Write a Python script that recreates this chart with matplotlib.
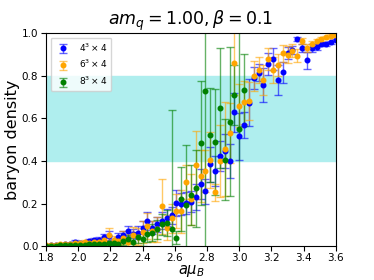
import numpy as np
import matplotlib
matplotlib.use("Agg")
import matplotlib.pyplot as plt

# chemical potential grid (step 0.03)
mu_4 = np.round(np.linspace(1.80, 3.60, 61), 2)
mu_6 = mu_4
mu_8 = np.round(np.linspace(1.80, 3.03, 42), 2)

dens_4 = [0.004, 0.005, 0.006, 0.007, 0.009, 0.011, 0.022, 0.016, 0.018, 0.026,
          0.030, 0.031, 0.042, 0.050, 0.020, 0.042, 0.052, 0.072, 0.060, 0.065,
          0.088, 0.119, 0.088, 0.103, 0.120, 0.134, 0.145, 0.204, 0.199, 0.204,
          0.210, 0.231, 0.292, 0.258, 0.384, 0.353, 0.424, 0.446, 0.401, 0.628,
          0.517, 0.569, 0.674, 0.790, 0.813, 0.755, 0.855, 0.878, 0.778, 0.816,
          0.906, 0.921, 0.972, 0.929, 0.872, 0.930, 0.934, 0.948, 0.949, 0.957,
          0.968]
err_4 = [0.003, 0.003, 0.004, 0.004, 0.005, 0.005, 0.010, 0.006, 0.008, 0.010,
         0.010, 0.012, 0.015, 0.020, 0.015, 0.020, 0.020, 0.025, 0.020, 0.030,
         0.030, 0.040, 0.030, 0.035, 0.040, 0.040, 0.040, 0.060, 0.050, 0.050,
         0.050, 0.060, 0.070, 0.060, 0.080, 0.070, 0.070, 0.080, 0.080, 0.090,
         0.110, 0.060, 0.110, 0.050, 0.040, 0.080, 0.050, 0.050, 0.070, 0.050,
         0.030, 0.020, 0.010, 0.020, 0.040, 0.020, 0.015, 0.010, 0.010, 0.008,
         0.006]

dens_6 = [0.006, 0.007, 0.008, 0.009, 0.010, 0.012, 0.014, 0.016, 0.020, 0.018,
          0.022, 0.020, 0.030, 0.055, 0.030, 0.026, 0.040, 0.019, 0.052, 0.045,
          0.068, 0.096, 0.070, 0.080, 0.188, 0.088, 0.131, 0.165, 0.165, 0.300,
          0.220, 0.381, 0.330, 0.353, 0.404, 0.253, 0.400, 0.458, 0.532, 0.860,
          0.659, 0.675, 0.682, 0.800, 0.826, 0.780, 0.878, 0.826, 0.850, 0.906,
          0.898, 0.917, 0.894, 0.964, 0.929, 0.949, 0.963, 0.971, 0.980, 0.988,
          0.990]
err_6 = [0.004, 0.004, 0.005, 0.005, 0.006, 0.006, 0.007, 0.008, 0.010, 0.010,
         0.012, 0.012, 0.015, 0.030, 0.020, 0.020, 0.030, 0.040, 0.040, 0.040,
         0.050, 0.060, 0.050, 0.060, 0.130, 0.060, 0.070, 0.080, 0.100, 0.080,
         0.120, 0.160, 0.120, 0.100, 0.130, 0.040, 0.170, 0.220, 0.140, 0.150,
         0.100, 0.100, 0.090, 0.070, 0.060, 0.070, 0.050, 0.060, 0.050, 0.040,
         0.040, 0.030, 0.030, 0.015, 0.020, 0.015, 0.010, 0.010, 0.008, 0.006,
         0.005]

dens_8 = [0.003, 0.004, 0.004, 0.005, 0.005, 0.006, 0.006, 0.007, 0.008, 0.009,
          0.010, 0.012, 0.012, 0.015, 0.015, 0.011, 0.023, 0.034, 0.022, 0.042,
          0.034, 0.057, 0.065, 0.080, 0.103, 0.111, 0.080, 0.040, 0.224, 0.196,
          0.242, 0.273, 0.485, 0.728, 0.523, 0.489, 0.648, 0.407, 0.585, 0.708,
          0.550, 0.733]
err_8 = [0.003, 0.003, 0.003, 0.004, 0.004, 0.004, 0.005, 0.005, 0.005, 0.006,
         0.006, 0.007, 0.008, 0.010, 0.010, 0.012, 0.015, 0.020, 0.020, 0.025,
         0.030, 0.035, 0.040, 0.045, 0.050, 0.060, 0.560, 0.030, 0.150, 0.280,
         0.140, 0.180, 0.290, 0.800, 0.220, 0.250, 0.280, 0.190, 0.350, 0.140,
         0.600, 0.170]

series = [
    (mu_4, dens_4, err_4, 'blue', r'$4^3\times4$'),
    (mu_6, dens_6, err_6, 'orange', r'$6^3\times4$'),
    (mu_8, dens_8, err_8, 'green', r'$8^3\times4$'),
]

fig = plt.figure(figsize=(3.74, 2.8), dpi=100)
ax = fig.add_axes([0.123, 0.12, 0.775, 0.762])

ax.axhspan(0.4, 0.8, color='paleturquoise', zorder=0)

for x, y, e, c, lab in series:
    eb = ax.errorbar(x, y, yerr=e, fmt='o', color=c, ecolor=c, markersize=3.3,
                     capsize=3, elinewidth=1, capthick=1, label=lab)
    for cap in eb[1]:
        cap.set_alpha(0.6)
    for bar in eb[2]:
        bar.set_alpha(0.6)

ax.set_xlim(1.8, 3.6)
ax.set_ylim(0, 1.0)
ax.set_xticks(np.arange(1.8, 3.61, 0.2))
ax.set_yticks(np.arange(0, 1.01, 0.2))
ax.tick_params(labelsize=7.5, pad=2)
ax.tick_params(axis='x', pad=1.5)
ax.set_xlabel(r'$a\mu_B$', fontsize=10.5, labelpad=-0.5)
ax.set_ylabel('baryon density', fontsize=11.5, labelpad=1)
ax.set_title(r'$am_q = 1.00, \beta = 0.1$', fontsize=12.5, pad=4)
ax.legend(loc='upper left', fontsize=6.5)

fig.savefig('out.png', dpi=100)
